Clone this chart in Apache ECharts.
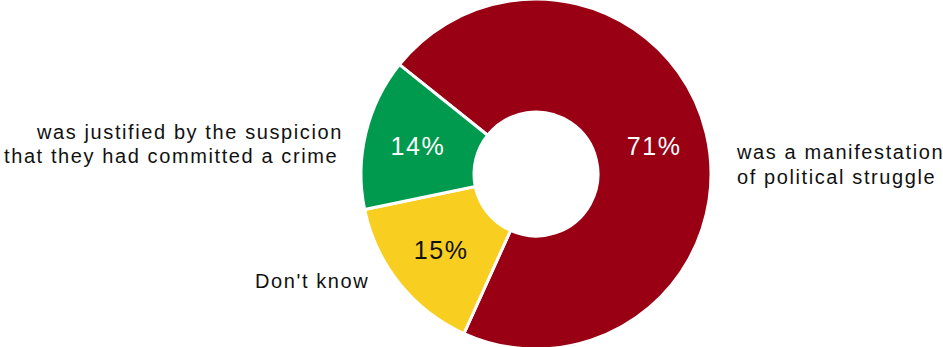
<!DOCTYPE html>
<html>
<head>
<meta charset="utf-8">
<script src="https://cdn.jsdelivr.net/npm/echarts@6/dist/echarts.min.js"></script>
<style>html,body{margin:0;padding:0;background:#fff;}#c{width:943px;height:347px;letter-spacing:1.6px;}</style>
</head>
<body>
<div id="c"></div>
<script>
const categories = ["was a manifestation of political struggle", "Don't know", "was justified by the suspicion that they had committed a crime"];
const values = [71, 15, 14];
const colors = ["#990014", "#F8CE20", "#009A4E"];
const labelColors = ["#ffffff", "#111111", "#ffffff"];

const chart = echarts.init(document.getElementById('c'), null, {renderer: 'svg'});
const font = '"Liberation Sans", Arial, sans-serif';
chart.setOption({
  animation: false,
  backgroundColor: '#ffffff',
  series: [{
    type: 'pie',
    center: [536, 174],
    radius: [62, 175],
    startAngle: 141.3,
    clockwise: true,
    avoidLabelOverlap: false,
    labelLine: {show: false},
    data: categories.map((c, i) => ({
      name: c,
      value: values[i],
      itemStyle: {color: colors[i], borderColor: '#ffffff', borderWidth: 3},
      label: {color: labelColors[i]}
    })),
    label: {
      show: true,
      position: 'inside',
      formatter: p => p.value + '%',
      fontFamily: font,
      fontSize: 25
    }
  }],
  graphic: [
    {type: 'text', z: 100, left: 737, top: 139, style: {text: 'was a manifestation\nof political struggle', font: '20px ' + font, fill: '#111', lineHeight: 25, align: 'left'}},
    {type: 'text', z: 100, left: 37, top: 122, style: {text: 'was justified by the suspicion', font: '20px ' + font, fill: '#111', align: 'left'}},
    {type: 'text', z: 100, left: 4, top: 146, style: {text: 'that they had committed a crime', font: '20px ' + font, fill: '#111', align: 'left'}},
    {type: 'text', z: 100, left: 255, top: 271, style: {text: "Don't know", font: '20px ' + font, fill: '#111', align: 'left'}}
  ]
});
</script>
</body>
</html>
